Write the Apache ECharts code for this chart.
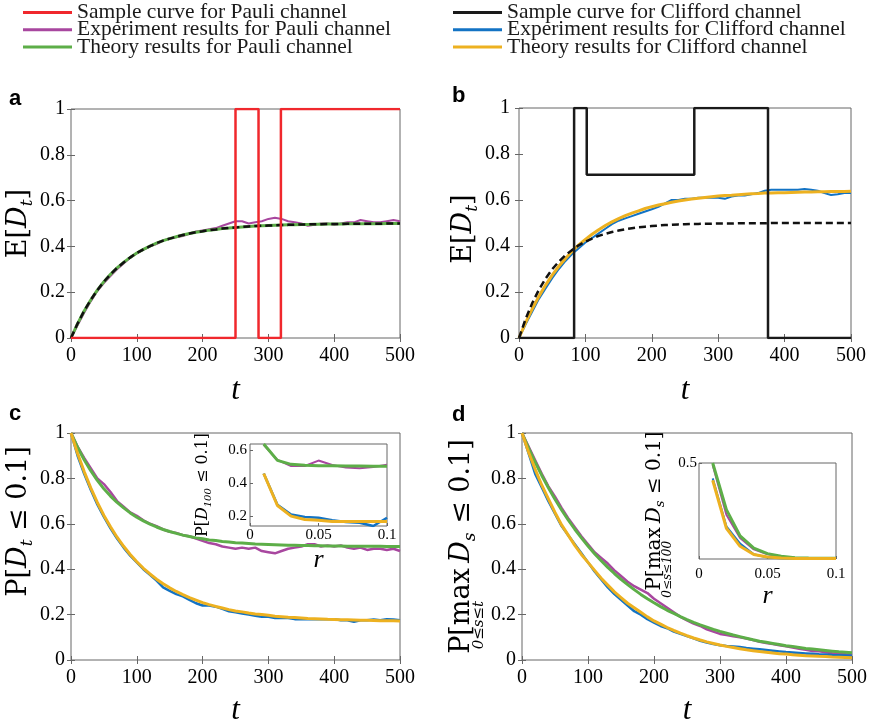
<!DOCTYPE html>
<html><head><meta charset="utf-8">
<script src="https://cdn.jsdelivr.net/npm/echarts@6/dist/echarts.min.js"></script>
<style>html,body{margin:0;padding:0;background:#fff}#c{width:880px;height:727px}</style>
</head><body><div id="c"></div>
<script>
// ---------- data ----------
const t = Array.from({length: 51}, (_, i) => i * 10); // sampling grid 0..500
const r = [0.01,0.02,0.03,0.04,0.05,0.06,0.07,0.08,0.09,0.1];

const pauliSampleT = [0,250,250,285,285,319,319,500];
const pauliSampleV = [0,0,1,1,0,0,1,1];
const cliffSampleT = [0,83,83,102,102,264,264,375,375,500];
const cliffSampleV = [0,0,1,1,0.71,0.71,1,1,0,0];

const aPauliTheory = [0,0.063,0.118,0.166,0.209,0.246,0.278,0.306,0.330,0.352,0.371,0.387,0.401,0.414,0.425,0.434,0.442,0.450,0.456,0.462,0.466,0.471,0.474,0.478,0.480,0.483,0.485,0.487,0.489,0.490,0.491,0.492,0.493,0.494,0.495,0.496,0.496,0.497,0.497,0.498,0.498,0.498,0.499,0.499,0.499,0.499,0.499,0.499,0.5,0.5,0.5];
const aPauliExp = [0,0.055,0.11,0.16,0.205,0.24,0.27,0.30,0.325,0.35,0.37,0.385,0.40,0.41,0.425,0.435,0.44,0.445,0.455,0.465,0.47,0.475,0.48,0.49,0.50,0.51,0.51,0.50,0.505,0.51,0.52,0.525,0.52,0.51,0.505,0.50,0.49,0.495,0.50,0.50,0.495,0.50,0.505,0.505,0.515,0.51,0.505,0.505,0.51,0.515,0.51];

const bCliffTheory = [0,0.067,0.127,0.181,0.230,0.273,0.312,0.346,0.377,0.405,0.429,0.451,0.471,0.489,0.505,0.519,0.532,0.543,0.553,0.563,0.571,0.578,0.584,0.590,0.596,0.600,0.604,0.608,0.611,0.614,0.617,0.620,0.621,0.623,0.625,0.627,0.628,0.630,0.630,0.632,0.632,0.633,0.634,0.635,0.635,0.636,0.636,0.637,0.637,0.637,0.638];
const bCliffExp = [0,0.06,0.115,0.17,0.215,0.26,0.30,0.335,0.365,0.39,0.415,0.435,0.455,0.475,0.495,0.51,0.52,0.53,0.54,0.55,0.56,0.57,0.585,0.60,0.60,0.605,0.605,0.61,0.61,0.61,0.61,0.605,0.615,0.62,0.62,0.625,0.63,0.64,0.645,0.645,0.645,0.645,0.645,0.648,0.645,0.64,0.63,0.622,0.625,0.63,0.63];
const bPauliRef = [0,0.083,0.152,0.210,0.258,0.299,0.332,0.360,0.383,0.403,0.419,0.432,0.444,0.453,0.461,0.467,0.473,0.477,0.481,0.484,0.487,0.489,0.491,0.492,0.494,0.495,0.496,0.496,0.497,0.497,0.498,0.498,0.498,0.499,0.499,0.499,0.499,0.499,0.5,0.5,0.5,0.5,0.5,0.5,0.5,0.5,0.5,0.5,0.5,0.5,0.5];

const cPauliTheory = [1,0.937,0.882,0.834,0.791,0.754,0.722,0.694,0.670,0.648,0.629,0.613,0.599,0.586,0.575,0.566,0.558,0.550,0.544,0.538,0.534,0.529,0.526,0.522,0.520,0.517,0.515,0.513,0.511,0.510,0.509,0.508,0.507,0.506,0.505,0.504,0.504,0.503,0.503,0.502,0.502,0.502,0.501,0.501,0.501,0.501,0.501,0.501,0.5,0.5,0.5];
const cPauliExp = [1,0.94,0.89,0.845,0.80,0.775,0.74,0.70,0.675,0.65,0.635,0.615,0.60,0.59,0.575,0.565,0.56,0.55,0.545,0.535,0.525,0.515,0.51,0.50,0.495,0.49,0.495,0.49,0.495,0.48,0.475,0.47,0.48,0.49,0.495,0.50,0.51,0.51,0.50,0.505,0.50,0.505,0.495,0.49,0.495,0.485,0.49,0.49,0.485,0.49,0.48];
const cCliffTheory = [1.0,0.910,0.830,0.758,0.694,0.637,0.587,0.541,0.501,0.465,0.433,0.404,0.379,0.356,0.336,0.318,0.302,0.288,0.275,0.264,0.253,0.244,0.236,0.229,0.222,0.216,0.212,0.207,0.203,0.200,0.197,0.193,0.191,0.188,0.187,0.185,0.183,0.182,0.181,0.179,0.178,0.177,0.177,0.176,0.175,0.175,0.174,0.173,0.173,0.173,0.172];
const cCliffExp = [1,0.90,0.82,0.75,0.685,0.63,0.58,0.535,0.495,0.46,0.43,0.40,0.375,0.35,0.32,0.305,0.29,0.28,0.265,0.25,0.24,0.24,0.235,0.225,0.215,0.21,0.205,0.20,0.195,0.19,0.19,0.185,0.185,0.185,0.18,0.18,0.18,0.18,0.18,0.18,0.18,0.175,0.175,0.168,0.175,0.175,0.178,0.175,0.18,0.178,0.175];

const dPauliTheory = [1,0.933,0.871,0.813,0.759,0.708,0.661,0.617,0.576,0.538,0.502,0.468,0.437,0.408,0.381,0.355,0.332,0.310,0.289,0.270,0.252,0.235,0.219,0.205,0.191,0.178,0.166,0.155,0.145,0.135,0.126,0.118,0.110,0.103,0.096,0.089,0.083,0.078,0.073,0.068,0.063,0.059,0.055,0.051,0.048,0.045,0.042,0.039,0.036,0.034,0.032];
const dPauliExp = [1,0.94,0.88,0.82,0.765,0.72,0.67,0.625,0.585,0.545,0.51,0.475,0.45,0.425,0.395,0.37,0.345,0.325,0.31,0.295,0.27,0.25,0.23,0.21,0.19,0.175,0.16,0.15,0.135,0.125,0.115,0.11,0.105,0.10,0.095,0.088,0.08,0.075,0.07,0.065,0.06,0.055,0.05,0.045,0.04,0.038,0.034,0.03,0.027,0.025,0.022];
const dCliffTheory = [1,0.915,0.84,0.77,0.71,0.65,0.595,0.55,0.505,0.465,0.43,0.395,0.36,0.33,0.30,0.275,0.25,0.23,0.21,0.19,0.172,0.158,0.143,0.13,0.118,0.107,0.097,0.088,0.08,0.073,0.066,0.06,0.055,0.05,0.045,0.041,0.037,0.034,0.031,0.028,0.026,0.023,0.021,0.019,0.018,0.016,0.015,0.013,0.012,0.011,0.01];
const dCliffExp = [1,0.91,0.82,0.76,0.70,0.645,0.59,0.55,0.51,0.47,0.43,0.39,0.355,0.32,0.29,0.265,0.24,0.215,0.20,0.18,0.165,0.15,0.14,0.125,0.115,0.105,0.095,0.085,0.077,0.07,0.065,0.062,0.06,0.057,0.053,0.05,0.047,0.044,0.041,0.038,0.035,0.033,0.031,0.029,0.027,0.025,0.024,0.022,0.021,0.02,0.019];

const ciPauliExp = [0.635,0.543,0.506,0.506,0.539,0.512,0.496,0.492,0.50,0.514];
const ciPauliTheory = [0.64,0.54,0.516,0.51,0.508,0.507,0.506,0.506,0.505,0.505];
const ciCliffExp = [0.46,0.27,0.21,0.195,0.19,0.175,0.165,0.16,0.14,0.19];
const ciCliffTheory = [0.46,0.265,0.20,0.18,0.175,0.168,0.167,0.167,0.167,0.167];

const diPauliExp = [0.49,0.23,0.11,0.05,0.025,0.012,0.006,0.004,0.003,0.003];
const diPauliTheory = [0.5,0.257,0.12,0.057,0.028,0.014,0.007,0.005,0.004,0.004];
const diCliffExp = [0.42,0.17,0.08,0.025,0.008,0.004,0.003,0.002,0.002,0.002];
const diCliffTheory = [0.41,0.16,0.066,0.023,0.01,0.005,0.003,0.002,0.002,0.002];

const insetCYTicks = [0.2, 0.4, 0.6];

// ---------- style ----------
const SERIF = 'Liberation Serif';
const MATH = 'DejaVu Serif';
const AX = '#666';
const COL = {red:'#f0282d', purple:'#a8479f', green:'#5dae48', blue:'#1373c4', orange:'#edb120', black:'#1a1a1a'};
const N = {
  p1:'Sample curve for Pauli channel', p2:'Experiment results for Pauli channel', p3:'Theory results for Pauli channel',
  c1:'Sample curve for Clifford channel', c2:'Experiment results for Clifford channel', c3:'Theory results for Clifford channel'
};

// rich styles for math-like axis titles (subscripts shifted by token padding)
function rich(fs, sub, subPad, lim, limPad, gapA, gapB) {
  return {
    r: {fontFamily: MATH, fontSize: fs, verticalAlign: 'top', color: '#000'},
    i: {fontFamily: MATH, fontStyle: 'italic', fontSize: fs, verticalAlign: 'top', color: '#000'},
    s: {fontFamily: MATH, fontStyle: 'italic', fontSize: sub, verticalAlign: 'top', padding: [subPad, 0, 0, 0], color: '#000'},
    l: {fontFamily: MATH, fontStyle: 'italic', fontSize: lim, verticalAlign: 'top', padding: [limPad, 0, 0, 0], width: 0, color: '#000'},
    g: {fontFamily: MATH, fontSize: fs, verticalAlign: 'top', width: gapA || 0, color: 'rgba(0,0,0,0)'},
    h: {fontFamily: MATH, fontSize: fs, verticalAlign: 'top', width: gapB || 0, color: 'rgba(0,0,0,0)'}
  };
}

const tick = {show: true, inside: true, length: 4, lineStyle: {color: AX, width: 1}};
function mainX(gi, gap) {
  return [
    {type:'value', gridIndex: gi, min: 0, max: 500, interval: 100, axisLine:{show:false}, axisTick: tick, splitLine:{show:false},
     axisLabel:{fontFamily: SERIF, fontSize: 20, color:'#000', margin: 8},
     name:'t', nameLocation:'middle', nameGap: gap, nameTextStyle:{fontFamily: SERIF, fontStyle:'italic', fontSize: 31, color:'#000'}},
    {type:'value', gridIndex: gi, position:'top', min: 0, max: 500, interval: 100, axisLine:{show:false}, axisTick: tick, splitLine:{show:false}, axisLabel:{show:false}}
  ];
}
function mainY(gi, name, gap, margin, richStyle) {
  return [
    {type:'value', gridIndex: gi, min: 0, max: 1, interval: 0.2, axisLine:{show:false}, axisTick: tick, splitLine:{show:false},
     axisLabel:{fontFamily: SERIF, fontSize: 20, color:'#000', margin: margin},
     name: name, nameLocation:'middle', nameGap: gap, nameRotate: 90,
     nameTextStyle:{fontFamily: MATH, fontSize: 27, color:'#000', rich: richStyle}},
    {type:'value', gridIndex: gi, position:'right', min: 0, max: 1, interval: 0.2, axisLine:{show:false}, axisTick: tick, splitLine:{show:false}, axisLabel:{show:false}}
  ];
}
const xAxes = [].concat(
  mainX(0, 37), mainX(1, 37), mainX(2, 35), mainX(3, 35),
  [{type:'value', gridIndex: 4, min: 0, max: 0.1, interval: 0.05, axisLine:{show:false}, axisTick:{show:true, inside:true, length:3, lineStyle:{color:AX}}, splitLine:{show:false},
    axisLabel:{fontFamily: SERIF, fontSize: 15, color:'#000', margin: 2},
    name:'r', nameLocation:'middle', nameGap: 21, nameTextStyle:{fontFamily: SERIF, fontStyle:'italic', fontSize: 26, color:'#000'}},
   {type:'value', gridIndex: 5, min: 0, max: 0.1, interval: 0.05, axisLine:{show:false}, axisTick:{show:true, inside:true, length:3, lineStyle:{color:AX}}, splitLine:{show:false},
    axisLabel:{fontFamily: SERIF, fontSize: 15, color:'#000', margin: 8},
    name:'r', nameLocation:'middle', nameGap: 23, nameTextStyle:{fontFamily: SERIF, fontStyle:'italic', fontSize: 26, color:'#000'}}]
);
const yAxes = [].concat(
  mainY(0, '{r|E[}{i|D}{s|t}{r|]}', 35, 6, rich(27, 17, 14, 15, 24)),
  mainY(1, '{r|E[}{i|D}{s|t}{r|]}{h| }', 35, 9, rich(27, 17, 14, 15, 24, 0, 12)),
  mainY(2, '{g| }{r|P[}{i|D}{s|t}{r| ≤ 0.1]}', 34, 6, rich(27, 17, 14, 15, 24, 50, 0)),
  mainY(3, '{r|P[}{l|0≤s≤t}{r|max\u2009}{i|D}{s|s}{r| ≤ 0.1]}', 33, 6, rich(27, 17, 14, 15, 24)),
  [{type:'value', gridIndex: 4, min: 0.14, max: 0.64, axisLine:{show:false},
    axisTick:{show:true, inside:true, length:3, lineStyle:{color:AX}, customValues: insetCYTicks}, splitLine:{show:false},
    axisLabel:{fontFamily: SERIF, fontSize: 15, color:'#000', margin: 3, customValues: insetCYTicks},
    name:'{r|P[}{i|D}{s|100}{r| ≤ 0.1]}', nameLocation:'middle', nameGap: 37, nameRotate: 90,
    nameTextStyle:{fontFamily: MATH, fontSize: 16, color:'#000', rich: rich(16, 10, 8, 9, 14)}},
   {type:'value', gridIndex: 5, min: 0, max: 0.5, interval: 0.5, axisLine:{show:false},
    axisTick:{show:true, inside:true, length:3, lineStyle:{color:AX}}, splitLine:{show:false},
    axisLabel:{fontFamily: SERIF, fontSize: 15, color:'#000', margin: 2, showMinLabel: false},
    name:'{r|P[}{l|0≤s≤100}{r|max\u2009}{i|D}{s|s}{r| ≤ 0.1]}', nameLocation:'middle', nameGap: 20, nameRotate: 90,
    nameTextStyle:{fontFamily: MATH, fontSize: 20, color:'#000', rich: rich(20, 13, 10, 12, 18)}}]
);

function pairs(xs, ys) { return xs.map((x, i) => [x, ys[i]]); }
function line(name, ai, xs, ys, color, width, dash) {
  return {type:'line', name: name, xAxisIndex: ai, yAxisIndex: ai, data: pairs(xs, ys), symbol:'none', silent: true,
    itemStyle:{color: color}, lineStyle:{color: color, width: width, type: dash || 'solid'}};
}

const series = [
  // a
  line(N.p2, 0, t, aPauliExp, COL.purple, 2),
  line(N.p3, 0, t, aPauliTheory, COL.green, 3),
  line('Pauli reference a', 0, t, aPauliTheory, '#111', 2.5, [7,4]),
  line(N.p1, 0, pauliSampleT, pauliSampleV, COL.red, 2.5),
  // b
  line(N.c2, 2, t, bCliffExp, COL.blue, 2),
  line(N.c3, 2, t, bCliffTheory, COL.orange, 3),
  line('Pauli reference b', 2, t, bPauliRef, '#111', 2.5, [7,4]),
  line(N.c1, 2, cliffSampleT, cliffSampleV, COL.black, 2.5),
  // c
  line(N.p2, 4, t, cPauliExp, COL.purple, 2.5),
  line(N.p3, 4, t, cPauliTheory, COL.green, 3),
  line(N.c2, 4, t, cCliffExp, COL.blue, 2.5),
  line(N.c3, 4, t, cCliffTheory, COL.orange, 3),
  // d
  line(N.p2, 6, t, dPauliExp, COL.purple, 2.5),
  line(N.p3, 6, t, dPauliTheory, COL.green, 3),
  line(N.c2, 6, t, dCliffExp, COL.blue, 2.5),
  line(N.c3, 6, t, dCliffTheory, COL.orange, 3),
  // inset c
  line(N.p2, 8, r, ciPauliExp, COL.purple, 2),
  line(N.p3, 8, r, ciPauliTheory, COL.green, 3),
  line(N.c2, 8, r, ciCliffExp, COL.blue, 2.5),
  line(N.c3, 8, r, ciCliffTheory, COL.orange, 3),
  // inset d
  line(N.p2, 9, r, diPauliExp, COL.purple, 2),
  line(N.p3, 9, r, diPauliTheory, COL.green, 3),
  line(N.c2, 9, r, diCliffExp, COL.blue, 2),
  line(N.c3, 9, r, diCliffTheory, COL.orange, 3)
];

const gridBase = {show: true, borderColor: AX, borderWidth: 1, backgroundColor: 'transparent', containLabel: false};
const grids = [
  Object.assign({left: 71, top: 109, width: 329, height: 229}, gridBase),
  Object.assign({left: 519, top: 108, width: 332, height: 230}, gridBase),
  Object.assign({left: 71, top: 433, width: 329, height: 229}, gridBase),
  Object.assign({left: 522, top: 433, width: 330, height: 228}, gridBase),
  Object.assign({left: 250, top: 444, width: 137, height: 82}, gridBase),
  Object.assign({left: 699, top: 463, width: 137, height: 96}, gridBase)
];

const legText = {fontFamily: SERIF, fontSize: 21.5, color: '#1a1a1a'};
const legends = [
  {left: 23, top: 1.5, orient: 'vertical', icon: 'rect', itemWidth: 49, itemHeight: 3, itemGap: -4.8, padding: 0, selectedMode: false,
   data: [N.p1, N.p2, N.p3], textStyle: legText},
  {left: 453, top: 1.5, orient: 'vertical', icon: 'rect', itemWidth: 49, itemHeight: 3, itemGap: -4.8, padding: 0, selectedMode: false,
   data: [N.c1, N.c2, N.c3], textStyle: legText}
];

const lblStyle = {fontFamily: 'Liberation Sans', fontWeight: 'bold', fontSize: 22, color: '#000'};
const titles = [
  {text: 'a', left: 9, top: 88, padding: 0, textStyle: lblStyle},
  {text: 'b', left: 452, top: 85, padding: 0, textStyle: lblStyle},
  {text: 'c', left: 9, top: 403, padding: 0, textStyle: lblStyle},
  {text: 'd', left: 452, top: 404, padding: 0, textStyle: lblStyle}
];

const chart = echarts.init(document.getElementById('c'), null, {renderer: 'canvas'});
chart.setOption({
  animation: false,
  backgroundColor: '#fff',
  title: titles,
  legend: legends,
  grid: grids,
  xAxis: xAxes,
  yAxis: yAxes,
  series: series
});
</script>
</body></html>
